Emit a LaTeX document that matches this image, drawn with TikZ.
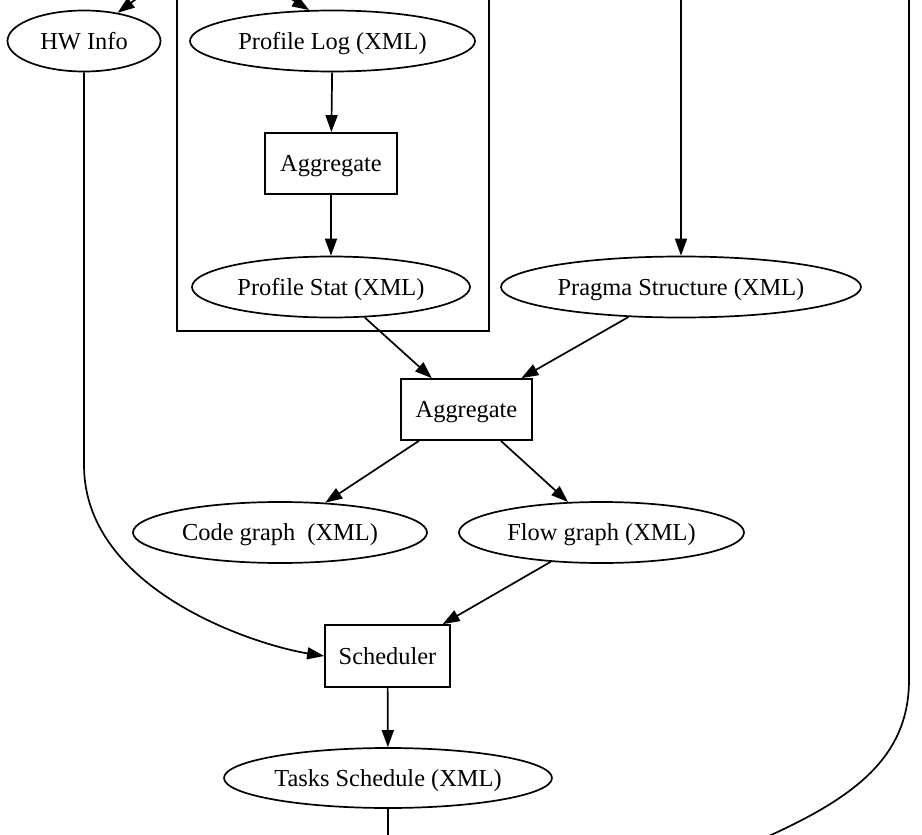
\documentclass[tikz,border=0pt]{standalone}
\usepackage{fontspec}
\setmainfont{Liberation Serif}
\usetikzlibrary{shapes.geometric,arrows.meta}
\begin{document}
\begin{tikzpicture}[x=0.5pt,y=-0.5pt,
  every node/.style={font=\fontsize{12.2}{14}\selectfont, inner sep=0pt, text height=8.1pt, text depth=0pt, line width=0.85pt},
  ell/.style={draw, ellipse, minimum height=30.5pt},
  boxn/.style={draw, rectangle, minimum height=30.5pt},
  edge/.style={draw, line width=0.85pt, -{Triangle[length=8.5pt,width=6pt]}},
  plain/.style={draw, line width=0.85pt}]
\clip (0,0) rectangle (922,835);
% cluster
\draw[plain] (177,-10) rectangle (489,331);
% nodes
\node[ell, minimum width=76.5pt] (hw) at (84,41) {HW Info};
\node[ell, minimum width=142.5pt] (plog) at (332.5,41) {Profile Log (XML)};
\node[boxn, minimum width=66pt] (agg1) at (331,163.5) {Aggregate};
\node[ell, minimum width=139pt] (pstat) at (331,287) {Profile Stat (XML)};
\node[ell, minimum width=180pt] (pragma) at (681,287) {Pragma Structure (XML)};
\node[boxn, minimum width=65.5pt] (agg2) at (466.5,409.5) {Aggregate};
\node[ell, minimum width=147pt] (code) at (280,532.5) {Code graph~~(XML)};
\node[ell, minimum width=142.5pt] (flow) at (601.5,532.5) {Flow graph (XML)};
\node[boxn, minimum width=62.5pt, minimum height=31pt] (sched) at (387.5,656) {Scheduler};
\node[ell, minimum width=164pt, minimum height=30pt] (tasks) at (388,778) {Tasks Schedule (XML)};
% free ends
\coordinate (hwin) at (148,-10);
\coordinate (plin) at (277,-10);
\coordinate (prin) at (681,-10);
\coordinate (rin) at (909,-10);
\coordinate (rout) at (760,840);
\coordinate (tout) at (388,845);
% edges
\draw[edge] (hwin) -- (hw.40);
\draw[edge] (plin) -- (plog.127);
\draw[edge] (prin) -- (pragma);
\draw[edge] (plog) -- (agg1);
\draw[edge] (agg1) -- (pstat);
\draw[edge] (pstat) -- (agg2);
\draw[edge] (pragma) -- (agg2);
\draw[edge] (agg2) -- (code);
\draw[edge] (agg2) -- (flow);
\draw[edge] (flow) -- (sched);
\draw[edge] (sched) -- (tasks);
\draw[edge] (hw) -- (84,465) .. controls (84,590) and (255,645) .. (sched.west);
\draw[plain] (tasks) -- (tout);
\draw[plain] (rin) -- (909,680) .. controls (909,760) and (850,800) .. (rout);
\end{tikzpicture}
\end{document}
